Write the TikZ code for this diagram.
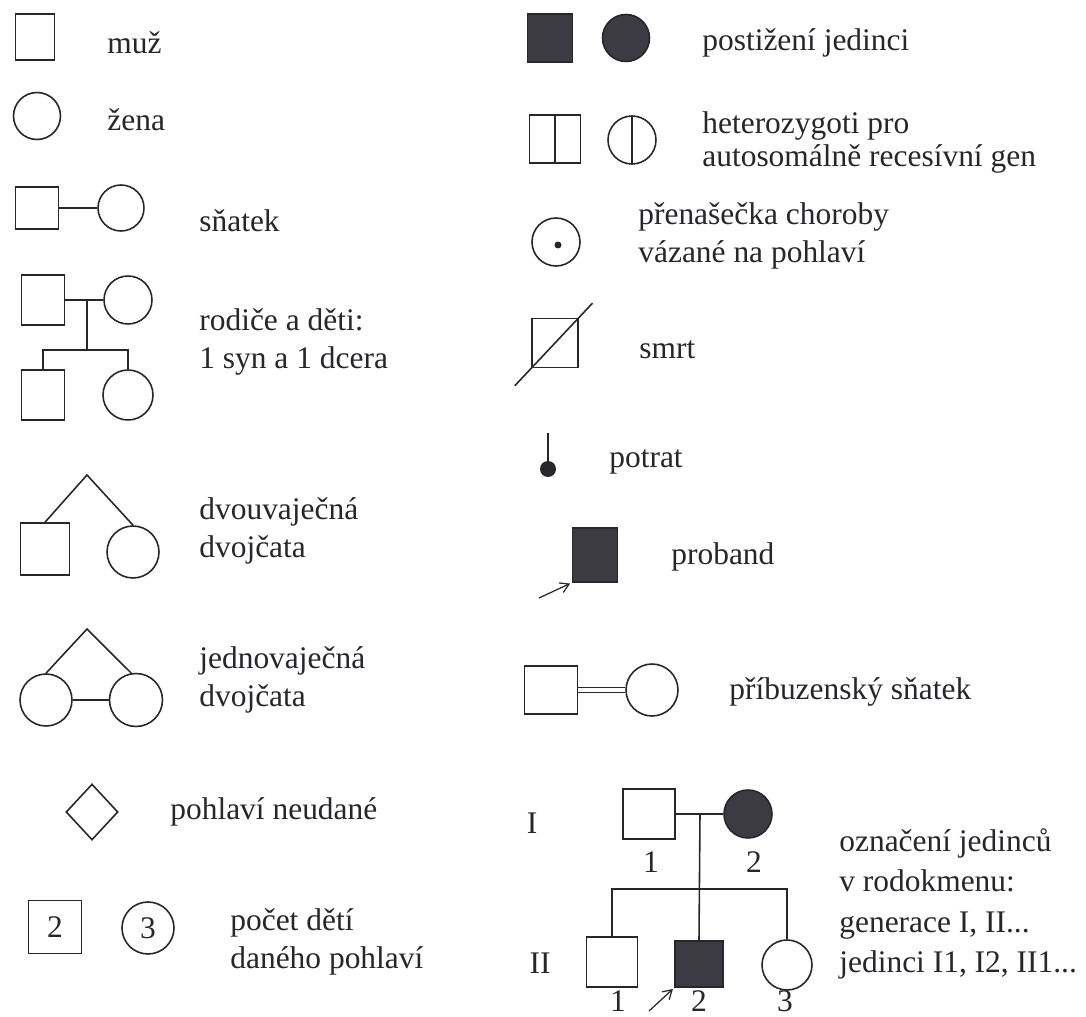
\documentclass[tikz,border=0pt]{standalone}
\usepackage{fontspec}
\setmainfont{Liberation Serif}
\usetikzlibrary{shapes.geometric,arrows.meta}
\definecolor{ink}{RGB}{40,38,44}
\definecolor{affected}{RGB}{60,58,66}
\newcommand{\legfont}{\fontsize{17.9}{21.6}\selectfont}
\tikzset{
  male/.style={draw=ink, line width=0.9pt, rectangle, inner sep=0pt, minimum width=0.9cm, minimum height=0.96cm, font=\legfont, text=ink},
  female/.style={draw=ink, line width=0.9pt, circle, inner sep=0pt, minimum size=0.96cm, font=\legfont, text=ink},
  sick/.style={fill=affected},
  lbl/.style={anchor=west, align=left, inner sep=0pt, text=ink, font=\legfont},
  num/.style={inner sep=0pt, text=ink, font=\legfont},
  link/.style={draw=ink, line width=0.9pt},
  probarrow/.style={link, line width=0.7pt, -{Straight Barb[length=5pt,width=6pt]}, shorten >=1pt}
}
\begin{document}
\begin{tikzpicture}[x=0.02cm, y=-0.02cm]
\fill[white] (0,0) rectangle (1086,1017);
\useasboundingbox (0,0) rectangle (1086,1017);
% left column
\node[male, minimum width=0.78cm, minimum height=0.92cm] (muz) at (35,37) {};
\node[lbl] (tmuz) at (107,43) {muž};
\node[female, minimum size=0.94cm] (zena) at (37,116) {};
\node[lbl] (tzena) at (107,120) {žena};
\node[male, minimum width=0.86cm, minimum height=0.84cm] (snm) at (37,208) {};
\node[female, minimum size=0.92cm] (snf) at (121,208) {};
\draw[link] (snm.east) -- (snf.west);
\node[lbl] (tsn) at (199,221) {sňatek};
\node[male, minimum width=0.86cm, minimum height=1.0cm] (rm) at (43,300) {};
\node[female] (rf) at (128,300) {};
\coordinate (rmid) at (87,300);
\coordinate (rsib) at (87,350);
\node[male, minimum width=0.86cm, minimum height=1.0cm] (rs) at (43,395) {};
\node[female, minimum size=1.0cm] (rd) at (128,395) {};
\draw[link] (rm.east) -- (rf.west);
\draw[link] (rmid) -- (rsib);
\draw[link] (rs.north) |- (rsib) -| (rd.north);
\node[lbl] (trod) at (199,342) {rodiče a děti:\\1 syn a 1 dcera};
\coordinate (dtop) at (87,475);
\node[male, minimum width=0.98cm, minimum height=1.04cm] (dvm) at (45,549) {};
\node[female, minimum size=1.04cm] (dvf) at (133,552) {};
\draw[link] (dvm.north) -- (dtop) -- (dvf.north);
\node[lbl] (tdv) at (199,531) {dvouvaječná\\dvojčata};
\coordinate (ztop) at (87,629);
\node[female, minimum size=1.04cm] (jf1) at (46,700) {};
\node[female, minimum size=1.06cm] (jf2) at (136,700) {};
\draw[link] (jf1.north) -- (ztop) -- (jf2.100);
\draw[link] (jf1.east) -- (jf2.west);
\node[lbl] (tjd) at (199,680) {jednovaječná\\dvojčata};
\node[diamond, draw=ink, line width=0.9pt, inner sep=0pt, minimum width=1.04cm, minimum height=1.12cm] (nez) at (92,812) {};
\node[lbl] (tnez) at (170,812) {pohlaví neudané};
\node[male, minimum width=1.06cm, minimum height=1.06cm] (pocm) at (55,927) {2};
\node[female, minimum size=1.04cm] (pocf) at (148,928) {3};
\node[lbl] (tpoc) at (230,942) {počet dětí\\daného pohlaví};
% right column
\node[male, sick, minimum width=0.9cm, minimum height=0.96cm] (am) at (550,38) {};
\node[female, sick, minimum size=0.94cm] (af) at (626,38) {};
\node[lbl] (taf) at (702,43) {postižení jedinci};
\node[male, minimum width=1.02cm, minimum height=0.96cm] (hm) at (555,139) {};
\draw[link] (hm.north) -- (hm.south);
\node[female] (hf) at (632,140) {};
\draw[link] (hf.north) -- (hf.south);
\node[lbl, font=\fontsize{17.9}{18.8}\selectfont] (thet) at (702,142) {heterozygoti pro\\autosomálně recesívní gen};
\node[female] (cf) at (556,242) {};
\node[circle, fill=ink, inner sep=0pt, minimum size=0.14cm] (cdot) at (558,245) {};
\node[lbl] (tcf) at (638,236) {přenašečka choroby\\vázané na pohlaví};
\node[male, minimum width=0.92cm, minimum height=0.98cm] (dead) at (555,343) {};
\draw[link, shorten <=-0.48cm, shorten >=-0.4cm] (dead.south west) -- (dead.north east);
\node[lbl] (tdead) at (639,350) {smrt};
\node[circle, fill=ink, inner sep=0pt, minimum size=0.32cm] (ab) at (548,469) {};
\coordinate (abtop) at (548,433);
\draw[link] (ab.center) -- (abtop);
\node[lbl] (tab) at (609,462) {potrat};
\node[male, sick, minimum width=0.9cm, minimum height=1.08cm] (pb) at (595,555) {};
\coordinate (pbtail) at (539,598);
\draw[probarrow] (pbtail) -- (pb.south west);
\node[lbl] (tpb) at (671,557) {proband};
\node[male, minimum width=1.06cm, minimum height=0.96cm] (km) at (551,690) {};
\node[female, minimum size=1.04cm] (kf) at (652,690) {};
\draw[link, line width=0.7pt, double=white, double distance=2pt] (km.east) -- (kf.west);
\node[lbl] (tk) at (729,692) {příbuzenský sňatek};
% pedigree
\node[num] (gI) at (532,823) {I};
\node[male, minimum width=1.04cm, minimum height=1.0cm] (i1) at (649,814) {};
\node[female, sick] (i2) at (748,814) {};
\draw[link] (i1.east) -- (i2.west);
\coordinate (imid) at (700,814);
\coordinate (isib) at (700,889);
\node[num] (ni1) at (651,862) {1};
\node[num] (ni2) at (754,862) {2};
\node[num] (gII) at (540,963) {II};
\node[male, minimum width=1.02cm, minimum height=1.0cm] (j1) at (612,962) {};
\node[male, sick, minimum width=0.96cm, minimum height=0.92cm] (j2) at (699,964) {};
\node[female, minimum size=1.0cm] (j3) at (787,965) {};
\draw[link] (imid) -- (j2.north);
\draw[link] (j1.north) |- (isib) -| (j3.north);
\node[num] (nj1) at (618,1001) {1};
\node[num] (nj2) at (699,1001) {2};
\node[num] (nj3) at (785,1001) {3};
\coordinate (jtail) at (649,1011);
\draw[probarrow] (jtail) -- (j2.south west);
\node[lbl, font=\fontsize{17.9}{23}\selectfont] (tped) at (839,904) {označení jedinců\\v rodokmenu:\\generace I, II...\\jedinci I1, I2, II1...};
\end{tikzpicture}
\end{document}
